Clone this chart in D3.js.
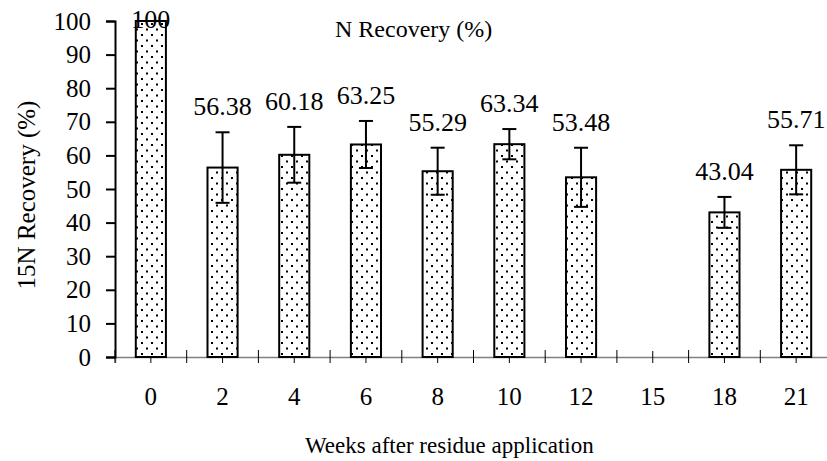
<!DOCTYPE html>
<html>
<head>
<meta charset="utf-8">
<script src="https://cdn.jsdelivr.net/npm/d3@7"></script>
<style>
  body { margin: 0; background: #fff; }
  svg { display: block; }
  svg text { font-family: "Liberation Serif", "Times New Roman", serif; fill: #000; }
</style>
</head>
<body>
<div id="chart"></div>
<script>
const WEEKS = ['0', '2', '4', '6', '8', '10', '12', '15', '18', '21'];
const RECOVERY = [100, 56.38, 60.18, 63.25, 55.29, 63.34, 53.48, null, 43.04, 55.71];
const ERRORS = [0, 10.5, 8.3, 7.0, 7.0, 4.5, 8.8, null, 4.6, 7.3];
const Y_TICKS = [0, 10, 20, 30, 40, 50, 60, 70, 80, 90, 100];

const FONT = '"Liberation Serif", "Times New Roman", serif';
const W = 827, H = 461;
const m = { top: 21, right: -5, bottom: 104, left: 115 };

const svg = d3.select('#chart').append('svg')
  .attr('width', W).attr('height', H)
  .attr('font-family', FONT);

// dotted fill like the old spreadsheet pattern
const pat = svg.append('defs').append('pattern')
  .attr('id', 'dots')
  .attr('patternUnits', 'userSpaceOnUse')
  .attr('width', 10).attr('height', 11);
pat.append('rect').attr('width', 10).attr('height', 11).attr('fill', '#fff');
pat.append('rect').attr('x', 1).attr('y', 1).attr('width', 2).attr('height', 2).attr('fill', '#000');
pat.append('rect').attr('x', 6).attr('y', 6.5).attr('width', 2).attr('height', 2).attr('fill', '#000');

const x = d3.scaleBand()
  .domain(WEEKS)
  .range([m.left, W - m.right]);

const y = d3.scaleLinear()
  .domain([0, 100])
  .range([H - m.bottom, m.top]);

const data = WEEKS.map((w, i) => ({ w, v: RECOVERY[i], e: ERRORS[i] }))
  .filter(d => d.v != null);

const barW = x.bandwidth() * 0.42;

// x axis: ticks at band centres and band edges, both crossing the line
const xAxis = svg.append('g')
  .attr('transform', `translate(0,${y(0)})`)
  .call(d3.axisBottom(x).tickSize(6).tickPadding(0))
  .attr('font-family', FONT);
xAxis.select('.domain').attr('stroke', '#808080').attr('stroke-width', 1.5);
xAxis.selectAll('.tick line').attr('y1', -6).attr('y2', 6).attr('stroke', '#000');
xAxis.selectAll('.tick text')
  .attr('y', 48).attr('dy', null)
  .attr('font-size', '25px');

xAxis.selectAll('.edge')
  .data(WEEKS)
  .join('line')
  .attr('class', 'edge')
  .attr('x1', d => x(d)).attr('x2', d => x(d))
  .attr('y1', -7).attr('y2', 6)
  .attr('stroke', '#000');

// y axis
const yAxis = svg.append('g')
  .attr('transform', `translate(${m.left},0)`)
  .call(d3.axisLeft(y).tickValues(Y_TICKS).tickSize(9).tickPadding(15))
  .attr('font-family', FONT);
yAxis.select('.domain').attr('stroke', '#000').attr('stroke-width', 2);
yAxis.selectAll('.tick line').attr('stroke', '#000').attr('stroke-width', 2);
yAxis.selectAll('.tick text')
  .attr('font-size', '25px');

// bars
svg.append('g').selectAll('rect')
  .data(data)
  .join('rect')
  .attr('x', d => x(d.w) + (x.bandwidth() - barW) / 2)
  .attr('y', d => y(d.v))
  .attr('width', barW)
  .attr('height', d => y(0) - y(d.v))
  .attr('fill', 'url(#dots)')
  .attr('stroke', '#000')
  .attr('stroke-width', 2);

// error bars
const eb = svg.append('g').attr('stroke', '#000').attr('stroke-width', 2)
  .selectAll('g')
  .data(data.filter(d => d.e > 0))
  .join('g')
  .attr('transform', d => `translate(${x(d.w) + x.bandwidth() / 2},0)`);
eb.append('line')
  .attr('y1', d => y(d.v + d.e)).attr('y2', d => y(d.v - d.e));
eb.append('line')
  .attr('x1', -7).attr('x2', 7)
  .attr('y1', d => y(d.v + d.e)).attr('y2', d => y(d.v + d.e));
eb.append('line')
  .attr('x1', -7).attr('x2', 7)
  .attr('y1', d => y(d.v - d.e)).attr('y2', d => y(d.v - d.e));

// value labels
svg.append('g').selectAll('text')
  .data(data)
  .join('text')
  .attr('x', d => x(d.w) + x.bandwidth() / 2)
  .attr('y', d => Math.max(y(d.v + d.e) - 17, m.top + 7))
  .attr('text-anchor', 'middle')
  .attr('font-size', '26px')
  .text(d => d.v);

// titles
svg.append('text')
  .attr('x', 335).attr('y', 37)
  .attr('font-size', '24px')
  .text('N Recovery (%)');

svg.append('text')
  .attr('x', 305).attr('y', 453)
  .attr('font-size', '23px')
  .text('Weeks after residue application');

svg.append('text')
  .attr('transform', `translate(35,${(y(0) + y(100)) / 2 + 6}) rotate(-90)`)
  .attr('text-anchor', 'middle')
  .attr('font-size', '25px')
  .text('15N Recovery (%)');
</script>
</body>
</html>
